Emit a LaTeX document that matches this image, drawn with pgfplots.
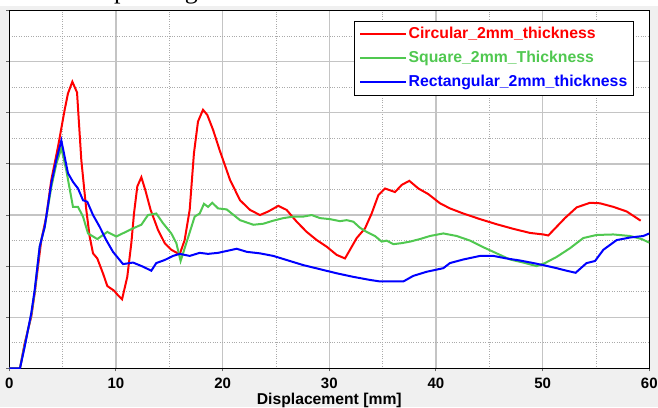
\documentclass[border=0pt]{standalone}
\usepackage{fontspec}
\setmainfont{Liberation Sans}
\newfontfamily\pageserif{Liberation Serif}
\usepackage{pgfplots}
\pgfplotsset{compat=1.18}

\definecolor{cred}{RGB}{255,0,0}
\definecolor{cgreen}{RGB}{80,200,80}
\definecolor{cblue}{RGB}{0,0,255}
\definecolor{panel}{RGB}{240,240,240}
\definecolor{gridmaj}{RGB}{196,196,196}
\definecolor{gridmin}{RGB}{170,170,170}

\begin{document}
\begin{tikzpicture}[x=1bp,y=1bp]
\useasboundingbox (0,0) rectangle (658,407);
\clip (0,0) rectangle (658,407);
\fill[white] (0,0) rectangle (658,407);
\node[anchor=base east, inner sep=0, font=\pageserif\fontsize{26bp}{30bp}\selectfont] at (198,408.5) {effect of padding};
\fill[panel] (0,0) rectangle (658,401);

\begin{axis}[
  at={(9.3bp,38.7bp)}, anchor=south west,
  scale only axis, width=640bp, height=357.6bp,
  xmin=0, xmax=60, ymin=0, ymax=7,
  xtick={0,10,...,60}, minor xtick={5,15,...,55},
  ytick={0,1,...,7}, minor ytick={0.5,1.5,...,6.5},
  yticklabels={},
  xtick pos=left, ytick pos=left,
  tick align=outside, major tick length=3bp, minor tick length=0bp,
  tick style={gray!80!black, line width=1bp},
  grid=both,
  major grid style={gridmaj, line width=1.2bp},
  minor grid style={gridmin, dotted, line width=0.8bp},
  axis background/.style={fill=white},
  axis line style={black, line width=1bp},
  /pgf/number format/assume math mode=true,
  ticklabel style={font=\bfseries\fontsize{15bp}{18bp}\selectfont},
  xticklabel style={yshift=-3.5bp},
  xlabel={Displacement [mm]},
  xlabel style={at={(axis description cs:0.5,0)}, anchor=base, yshift=-36bp,
    font=\bfseries\fontsize{15.7bp}{18bp}\selectfont},
  legend style={at={(1,1)}, anchor=north east, xshift=-15bp, yshift=-10bp,
    draw=black, line width=1bp, fill=white,
    inner xsep=5bp, inner ysep=4bp, row sep=5.5bp,
    font=\bfseries\fontsize{15.8bp}{18bp}\selectfont,
    cells={anchor=west},
    nodes={inner sep=1.5bp, text height=11.5bp, text depth=4bp}},
  legend image code/.code={\draw[#1] (0bp,0bp) -- (46bp,0bp);},
]
\addplot[cred, line width=2bp] coordinates {
(0,0) (1.0,0) (1.44,0.49) (2.06,1.01) (2.38,1.47) (3.0,2.51) (3.47,2.97)
(3.94,3.69) (4.57,4.34) (5.19,5.06) (5.5,5.38) (5.91,5.61) (6.35,5.40)
(6.75,4.08) (7.22,3.10) (7.53,2.58) (7.85,2.25) (8.25,2.15) (8.78,1.86)
(9.19,1.61) (9.82,1.52) (10.19,1.43) (10.57,1.35) (11.06,1.79) (11.44,2.45)
(11.69,3.03) (12.0,3.56) (12.38,3.74) (12.75,3.49) (13.25,3.10) (13.94,2.71)
(14.57,2.45) (15.19,2.32) (15.97,2.23) (16.44,2.51) (16.91,3.10) (17.31,4.21)
(17.69,4.83) (18.16,5.06) (18.56,4.96) (19.1,4.67) (19.72,4.27) (20.69,3.69)
(21.63,3.29) (22.57,3.10) (23.5,3.0) (24.28,3.07) (25.22,3.18) (26.0,3.10)
(26.94,2.87) (27.88,2.67) (28.82,2.51) (29.76,2.38) (30.69,2.22) (31.47,2.15)
(31.94,2.32) (32.57,2.55) (33.35,2.74) (33.97,3.03) (34.6,3.39) (35.22,3.52)
(36.16,3.45) (36.79,3.59) (37.5,3.67) (38.35,3.52) (39.28,3.41) (40.38,3.23)
(41.31,3.13) (42.56,3.03) (44.13,2.92) (45.69,2.82) (47.25,2.73) (48.81,2.65)
(50.06,2.62) (50.53,2.60) (51.31,2.77) (52.09,2.94) (53.19,3.15) (54.44,3.24)
(55.38,3.23) (56.63,3.16) (57.88,3.07) (59.19,2.89)
};
\addlegendentry{\textcolor{cred}{Circular\_2mm\_thickness}}
\addplot[cgreen, line width=2bp] coordinates {
(0,0) (1.0,0) (1.44,0.45) (2.06,1.05) (2.38,1.5) (2.85,2.38) (3.32,2.77)
(3.94,3.55) (4.41,4.0) (4.88,4.31) (5.34,3.88) (5.97,3.16) (6.44,3.16)
(6.91,2.97) (7.38,2.64) (8.25,2.53) (9.19,2.67) (10.03,2.58) (10.82,2.66)
(11.6,2.74) (12.38,2.81) (13.0,3.0) (13.78,3.03) (14.41,2.84) (15.19,2.64)
(15.66,2.45) (16.06,2.10) (16.44,2.35) (17.38,2.97) (17.85,3.03) (18.25,3.22)
(18.63,3.16) (19.03,3.24) (19.57,3.13) (20.38,3.11) (21.63,2.90) (22.88,2.81)
(23.81,2.83) (24.75,2.89) (25.69,2.94) (26.63,2.97) (27.56,2.97) (28.35,3.0)
(29.13,2.94) (30.06,2.92) (31.0,2.88) (31.63,2.90) (32.25,2.87) (32.88,2.75)
(33.5,2.67) (34.28,2.59) (34.91,2.48) (35.38,2.50) (36.0,2.43) (36.79,2.45)
(37.57,2.48) (38.5,2.53) (39.44,2.59) (40.69,2.64) (41.94,2.59) (43.19,2.50)
(44.44,2.37) (45.69,2.25) (46.94,2.13) (48.19,2.07) (49.44,2.0) (50.22,2.06)
(51.31,2.18) (52.56,2.35) (53.81,2.55) (55.06,2.61) (56.63,2.62) (58.19,2.59)
(59.28,2.53) (60,2.46)
};
\addlegendentry{\textcolor{cgreen}{Square\_2mm\_Thickness}}
\addplot[cblue, line width=2bp] coordinates {
(0,0) (1.0,0) (1.44,0.42) (2.06,1.08) (2.38,1.53) (2.85,2.38) (3.32,2.77)
(3.94,3.62) (4.41,4.08) (4.88,4.46) (5.19,4.14) (5.5,3.82) (5.97,3.65)
(6.44,3.52) (6.91,3.29) (7.31,3.26) (7.85,3.0) (8.47,2.77) (9.09,2.51)
(9.72,2.28) (10.66,2.04) (11.6,2.07) (12.53,1.99) (13.31,1.91) (13.78,2.06)
(14.57,2.12) (15.35,2.20) (15.97,2.24) (16.91,2.20) (17.85,2.26) (18.63,2.24)
(19.57,2.26) (21.32,2.34) (22.26,2.28) (23.5,2.25) (24.75,2.20) (26.0,2.12)
(27.56,2.02) (29.13,1.94) (30.69,1.86) (32.25,1.79) (33.81,1.73) (34.75,1.70)
(36.0,1.70) (36.94,1.70) (37.88,1.81) (39.13,1.89) (40.69,1.96) (41.31,2.06)
(42.56,2.13) (44.13,2.20) (45.38,2.20) (46.63,2.15) (47.88,2.11) (49.13,2.06)
(50.06,2.02) (51.31,1.96) (52.25,1.91) (53.09,1.87) (54.12,2.06) (54.91,2.10)
(55.69,2.32) (56.94,2.51) (58.19,2.56) (59.44,2.59) (60,2.64)
};
\addlegendentry{\textcolor{cblue}{Rectangular\_2mm\_thickness}}
\end{axis}
\end{tikzpicture}
\end{document}
